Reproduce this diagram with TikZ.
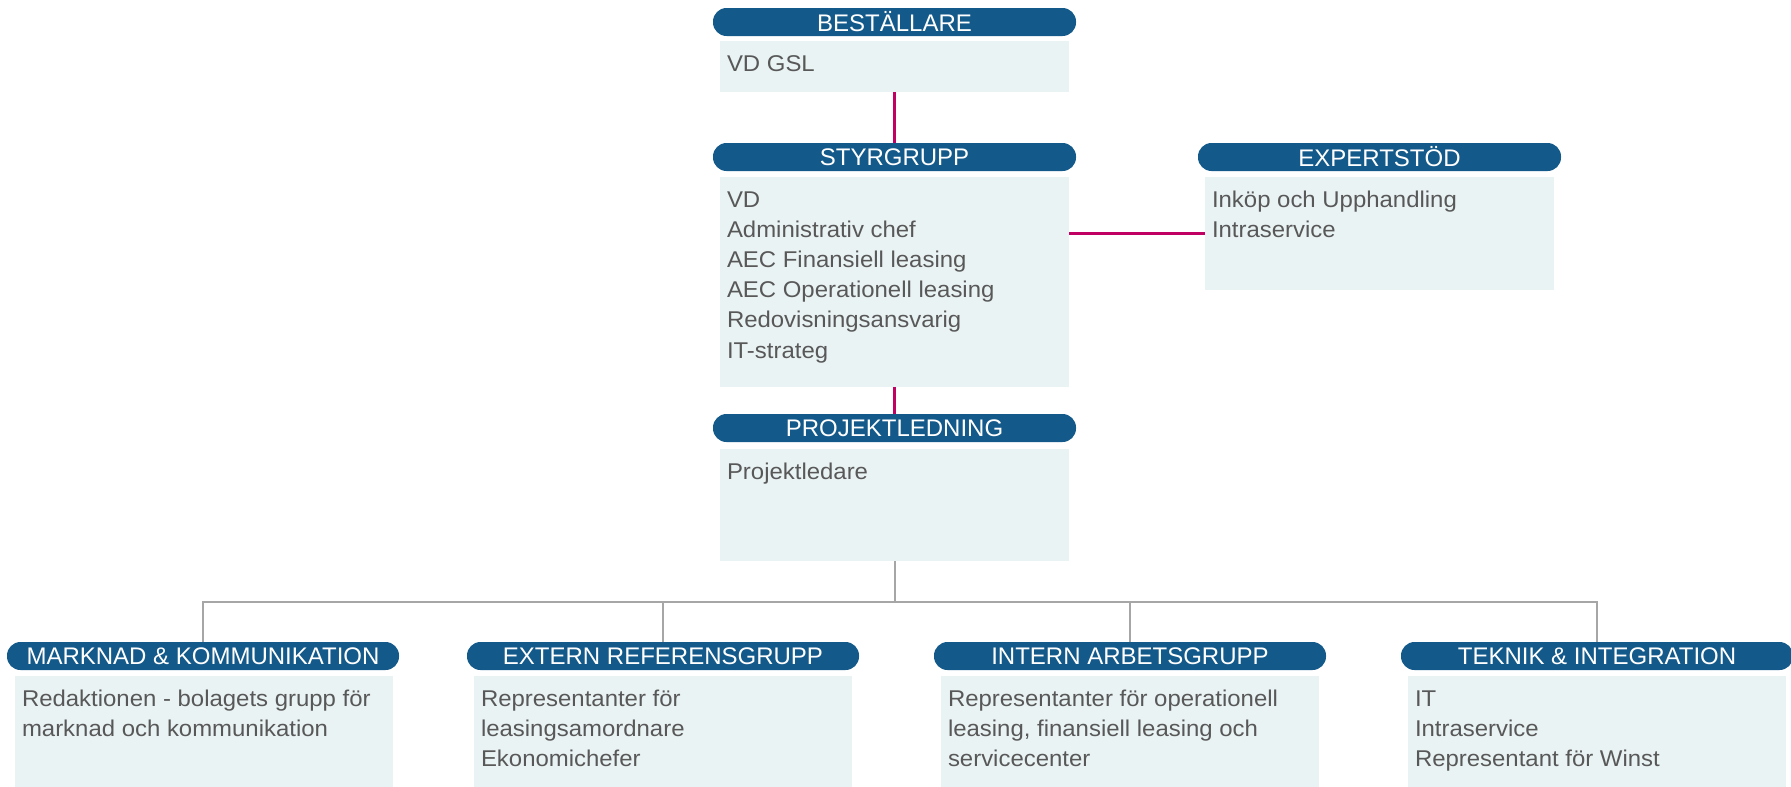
\documentclass[tikz,border=0pt]{standalone}
\usepackage{fontspec}
\setmainfont{Liberation Sans}
\newfontfamily\bodyfont[FakeStretch=1.05]{Liberation Sans}
\usetikzlibrary{calc}
\definecolor{pillblue}{RGB}{19,89,138}
\definecolor{boxfill}{RGB}{234,243,244}
\definecolor{bodytext}{RGB}{88,88,88}
\definecolor{redline}{RGB}{192,0,98}
\definecolor{grayline}{RGB}{166,166,166}
\tikzset{
  pill/.style={fill=pillblue, draw=none, rounded corners=13.5pt, minimum height=28pt, inner sep=0pt,
    text=white, font=\fontsize{24}{28}\selectfont},
  toppill/.style={pill, minimum width=363pt},
  botpill/.style={pill, minimum width=392pt},
  cbox/.style={fill=boxfill, draw=none, inner sep=0pt},
  topbox/.style={cbox, minimum width=349pt},
  botbox/.style={cbox, minimum width=378pt, minimum height=111pt},
  body/.style={anchor=north west, inner sep=0pt, align=left, text=bodytext,
    font=\bodyfont\fontsize{22.8}{30.2}\selectfont},
  redconn/.style={draw=redline, line width=2.5pt},
  grayconn/.style={draw=grayline, line width=2pt},
}
\newcommand{\firstline}{\rule{0pt}{21pt}}
\begin{document}
\begin{tikzpicture}[x=1pt,y=-1pt]
\useasboundingbox (0,0) rectangle (1791,787);
% top column
\node[toppill] (bestp) at (894.5,22) {BESTÄLLARE};
\node[topbox, minimum height=51pt] (bestb) at (894.5,66.5) {};
\node[body] (bestt) at ($(bestb.north west)+(7,9)$) {\firstline VD GSL};
\node[toppill] (styrp) at (894.5,157) {STYRGRUPP};
\node[topbox, minimum height=210pt] (styrb) at (894.5,282) {};
\node[body] (styrt) at ($(styrb.north west)+(7,9)$) {\firstline VD\\Administrativ chef\\AEC Finansiell leasing\\AEC Operationell leasing\\Redovisningsansvarig\\IT-strateg};
\node[toppill] (expp) at (1379.5,157) {EXPERTSTÖD};
\node[topbox, minimum height=113pt] (expb) at (1379.5,233.5) {};
\node[body] (expt) at ($(expb.north west)+(7,9)$) {\firstline Inköp och Upphandling\\Intraservice};
\node[toppill] (projp) at (894.5,428) {PROJEKTLEDNING};
\node[topbox, minimum height=112pt] (projb) at (894.5,505) {};
\node[body] (projt) at ($(projb.north west)+(7,9)$) {\firstline Projektledare};
% bottom row
\node[botpill] (mkp) at (203,656) {MARKNAD \& KOMMUNIKATION};
\node[botbox] (mkb) at (204,731.5) {};
\node[body] (mkt) at ($(mkb.north west)+(7,9)$) {\firstline Redaktionen - bolagets grupp för\\marknad och kommunikation};
\node[botpill] (exp2) at (663,656) {EXTERN REFERENSGRUPP};
\node[botbox] (exb) at (663,731.5) {};
\node[body] (ext) at ($(exb.north west)+(7,9)$) {\firstline Representanter för\\leasingsamordnare\\Ekonomichefer};
\node[botpill] (inp) at (1130,656) {INTERN ARBETSGRUPP};
\node[botbox] (inb) at (1130,731.5) {};
\node[body] (intt) at ($(inb.north west)+(7,9)$) {\firstline Representanter för operationell\\leasing, finansiell leasing och\\servicecenter};
\node[botpill] (tkp) at (1597,656) {TEKNIK \& INTEGRATION};
\node[botbox] (tkb) at (1597,731.5) {};
\node[body] (tkt) at ($(tkb.north west)+(7,9)$) {\firstline IT\\Intraservice\\Representant för Winst};
% connectors
\draw[redconn] (bestb.south) -- (styrp.north);
\draw[redconn] (styrb.south) -- (projp.north);
\draw[redconn] (styrb.east |- expb.west) -- (expb.west);
\coordinate (bus) at (894.5,602);
\draw[grayconn] (projb.south) -- (bus);
\draw[grayconn] (bus) -| (mkp.north);
\draw[grayconn] (bus) -| (exp2.north);
\draw[grayconn] (bus) -| (inp.north);
\draw[grayconn] (bus) -| (tkp.north);
\end{tikzpicture}
\end{document}
